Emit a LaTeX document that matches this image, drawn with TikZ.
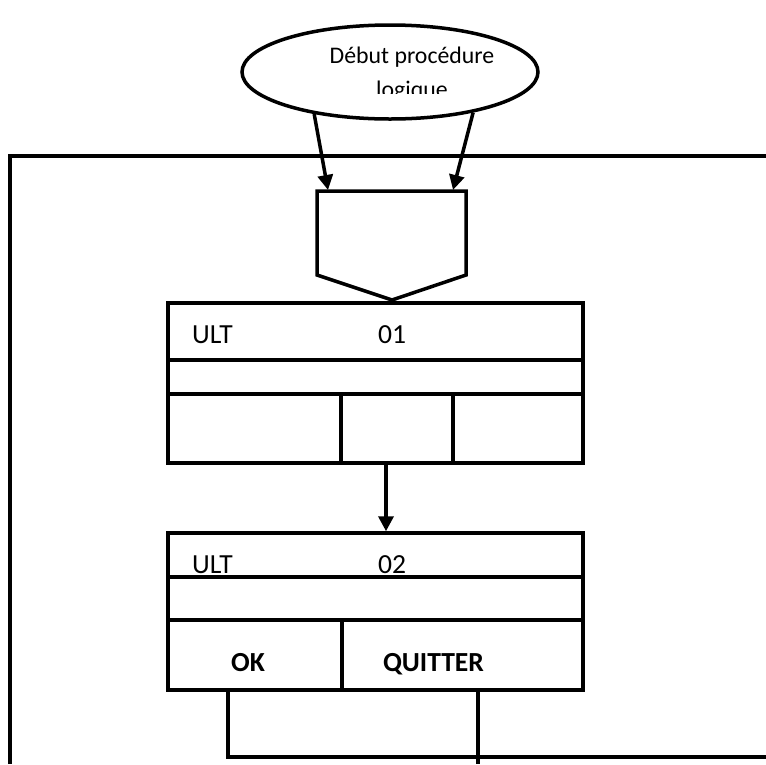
\documentclass[tikz,border=0pt]{standalone}
\usepackage{fontspec}
\setmainfont{Carlito}
\usetikzlibrary{shapes.geometric,arrows.meta}
\tikzset{
  trait/.style={line width=3.5pt},
  fleche/.style={trait,-{Triangle[width=15pt,length=15pt]}},
  boite/.style={draw,trait,rectangle,minimum width=415pt,inner sep=0pt},
  texte/.style={inner sep=0pt,anchor=base west,font=\fontsize{27.6}{33}\selectfont},
  bouton/.style={inner sep=0pt,anchor=base,font=\fontsize{27.6}{33}\selectfont\bfseries}
}
\begin{document}
\begin{tikzpicture}[x=1pt,y=-1pt]
      \useasboundingbox (0,0) rectangle (766,764);
      % cadre
      \draw[trait] (10,764) -- (10,156) -- (766,156);
      % debut
      \node[draw,trait,ellipse,minimum width=296pt,minimum height=94pt] (debut) at (390,72) {};
      \begin{scope}
        \clip (245,28) rectangle (535,93);
        \node[inner sep=0pt,anchor=base,font=\fontsize{23.8}{29}\selectfont] (titre1) at (412,63) {Début procédure};
        \node[inner sep=0pt,anchor=base,font=\fontsize{23.8}{29}\selectfont] (titre2) at (412,97) {logique};
      \end{scope}
      % entree
      \coordinate (entree1) at (328,190);
      \coordinate (entree2) at (453,190);
      \coordinate (pointe) at (392,300);
      \draw[trait] (317,191) -- (466,191) -- (466,275) -- (pointe) -- (317,275) -- cycle;
      \draw[fleche] (debut.209) -- (entree1);
      \draw[fleche] (debut.334) -- (entree2);
      % ULT 01
      \node[boite,minimum height=160pt] (ult1) at (375.5,383) {};
      \draw[trait] (168,360) -- (583,360);
      \draw[trait] (168,394) -- (583,394);
      \draw[trait] (341,394) -- (341,463);
      \draw[trait] (453,394) -- (453,463);
      \node[texte] (nom1) at (192,343) {ULT};
      \node[texte] (num1) at (378,343) {01};
      % ULT 02
      \node[boite,minimum height=157pt] (ult2) at (375.5,611.5) {};
      \draw[trait] (168,577) -- (583,577);
      \draw[trait] (168,620) -- (583,620);
      \draw[trait] (342,620) -- (342,690);
      \node[texte] (nom2) at (192,573) {ULT};
      \node[texte] (num2) at (378,573) {02};
      \node[bouton] (ok) at (248,671) {OK};
      \node[bouton] (quitter) at (433.5,671) {QUITTER};
      \draw[fleche] ([xshift=10.5pt]ult1.south) -- ([xshift=10.5pt]ult2.north);
      % sorties
      \coordinate (sortieok) at (228,690);
      \coordinate (sortiequitter) at (478,690);
      \draw[trait] (sortieok) -- (228,757) -- (766,757);
      \draw[trait] (sortiequitter) -- (478,764);
    \end{tikzpicture}
\end{document}
